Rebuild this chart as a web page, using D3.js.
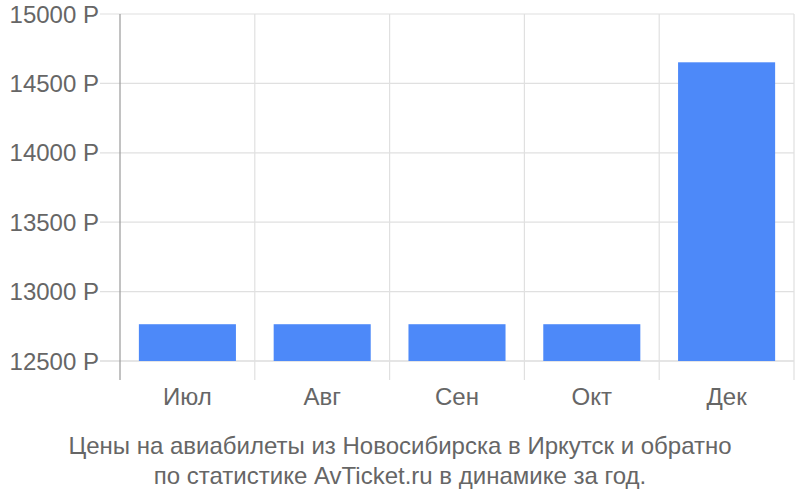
<!DOCTYPE html>
<html><head><meta charset="utf-8">
<script src="https://cdn.jsdelivr.net/npm/d3@7"></script>
<style>body{margin:0;background:#fff}svg{display:block}text{font-family:"Liberation Sans",Arial,sans-serif}</style>
</head><body><svg id="c" width="800" height="500"></svg>
<script>
const categories = ["Июл","Авг","Сен","Окт","Дек"];
const prices = [12765, 12765, 12765, 12765, 14652];
const yTicks = [12500, 13000, 13500, 14000, 14500, 15000];
const titleLines = ["Цены на авиабилеты из Новосибирска в Иркутск и обратно","по статистике AvTicket.ru в динамике за год."];

(function(){
const svg = d3.select("#c");
const pL = 120, pR = 794, pT = 14, pB = 361;
const x = d3.scaleBand().domain(categories).range([pL, pR]).paddingInner(0.28).paddingOuter(0.14);
const xb = d3.scaleBand().domain(categories).range([pL, pR]);
const y = d3.scaleLinear().domain([12500, 15000]).range([pB, pT]);

svg.append("g").selectAll("line").data(yTicks).join("line")
  .attr("x1", 100).attr("x2", pR).attr("y1", d=>y(d)).attr("y2", d=>y(d))
  .attr("stroke", d=>d===12500?"#cccccc":"#e0e0e0").attr("stroke-width",1.2);
svg.append("g").selectAll("line").data(categories.slice(1).concat(["__end"])).join("line")
  .attr("x1", d=>d==="__end"?pR:xb(d)).attr("x2", d=>d==="__end"?pR:xb(d))
  .attr("y1", pT).attr("y2", 380).attr("stroke","#e0e0e0").attr("stroke-width",1.2);
svg.append("g").selectAll("text").data(yTicks).join("text")
  .attr("x", 99).attr("y", d=>y(d)).attr("dy","0.36em").attr("text-anchor","end")
  .attr("font-size",24).attr("fill","#666").text(d=>d+" Р");
svg.append("g").selectAll("rect").data(prices).join("rect")
  .attr("x",(d,i)=>x(categories[i])).attr("width",x.bandwidth())
  .attr("y",d=>y(d)).attr("height",d=>y(12500)-y(d)).attr("fill","#4d89f9");
svg.append("line").attr("x1",pL).attr("x2",pL).attr("y1",pT).attr("y2",380)
  .attr("stroke","#999").attr("stroke-width",1.2);
svg.append("g").selectAll("text").data(categories).join("text")
  .attr("x", d=>xb(d)+xb.bandwidth()/2).attr("y",405).attr("text-anchor","middle")
  .attr("font-size",24).attr("fill","#666").text(d=>d);
svg.append("g").selectAll("text").data(titleLines).join("text")
  .attr("x",400).attr("y",(d,i)=>454+i*30).attr("text-anchor","middle")
  .attr("font-size",24).attr("fill","#666").text(d=>d);
})();
</script></body></html>
